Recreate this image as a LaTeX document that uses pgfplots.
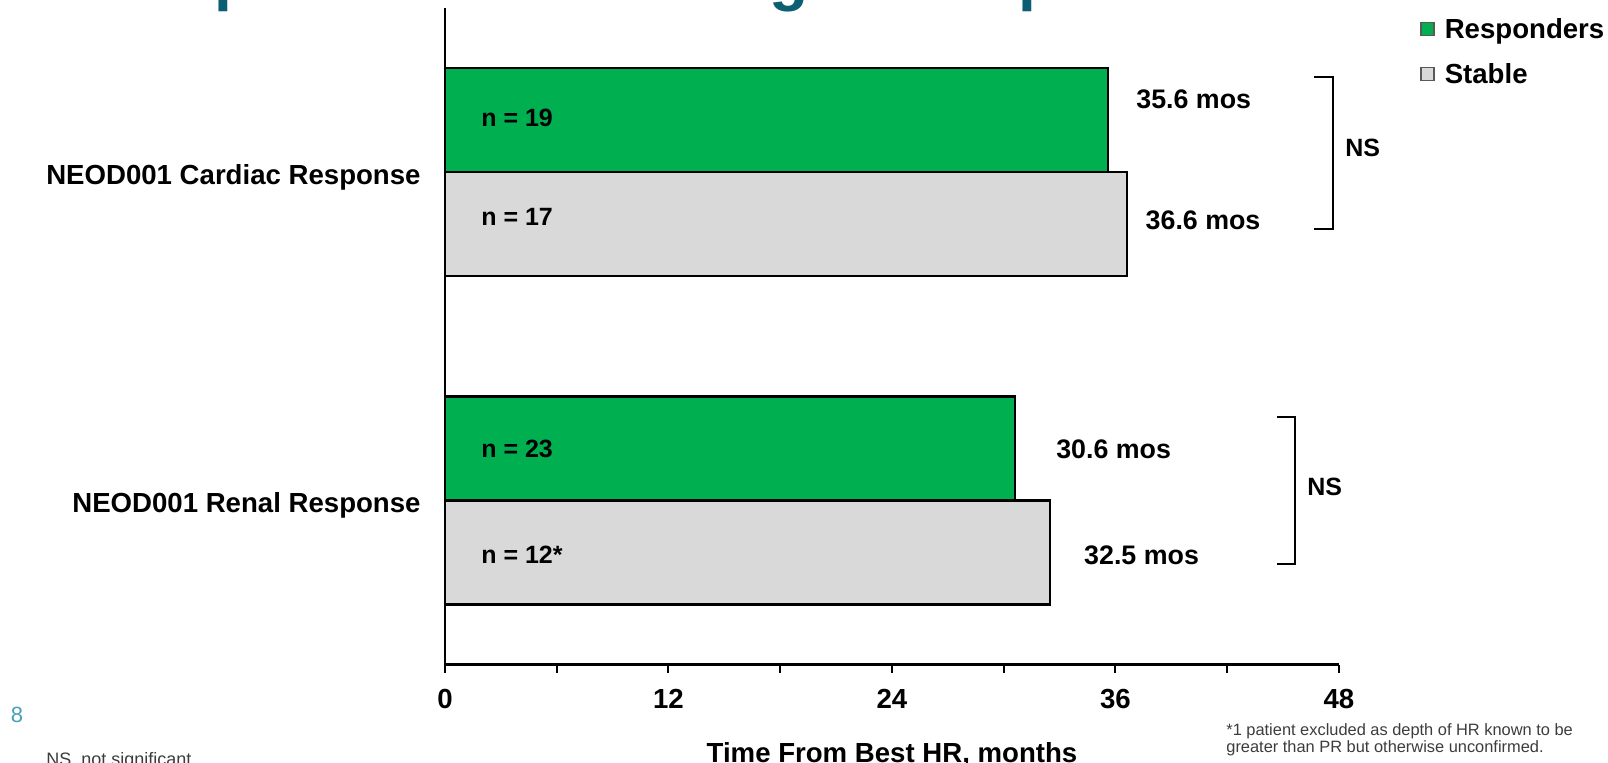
\documentclass[border=0pt]{standalone}
\usepackage{fontspec}
\setmainfont{Liberation Sans}
\usepackage{pgfplots}
\pgfplotsset{compat=1.18}

\definecolor{respgreen}{RGB}{0,176,80}
\definecolor{stablegray}{RGB}{217,217,217}
\definecolor{titleteal}{RGB}{12,95,115}
\definecolor{pageteal}{RGB}{70,160,185}
\definecolor{notegray}{RGB}{60,60,60}

\newcommand{\lblfont}{\fontsize{13.8}{16}\selectfont\bfseries}
\newcommand{\valfont}{\fontsize{13.4}{16}\selectfont\bfseries}
\newcommand{\nfont}{\fontsize{12.5}{15}\selectfont\bfseries}

\begin{document}
\begin{tikzpicture}[x=1pt,y=1pt]
\path[use as bounding box, clip] (0,0) rectangle (804,381);

% slide title, running off the top edge
\node[anchor=base west, inner sep=0pt, text=titleteal,
      font=\fontsize{32}{38}\selectfont\bfseries] at (36,381.75)
      {Comparable Across Organ Response};

\begin{axis}[
  at={(222.5pt,48.75pt)}, anchor=south west,
  scale only axis, width=447pt, height=328.1pt,
  xmin=0, xmax=48, ymin=-0.5, ymax=1.5,
  axis x line=bottom, axis y line=left,
  axis line style={-, line width=1.2pt, black},
  xtick={0,12,24,36,48},
  minor xtick={6,18,30,42},
  tick align=outside,
  major tick length=4pt, minor tick length=4pt,
  xtick style={line width=1pt, black},
  /pgf/number format/assume math mode=true,
  xticklabel style={font=\lblfont, yshift=-5pt},
  ytick={0,1},
  yticklabels={NEOD001 Renal Response, NEOD001 Cardiac Response},
  ytick style={draw=none},
  y tick label style={font=\lblfont, anchor=base east, inner sep=0pt,
                      xshift=-8pt, yshift=-5.9pt},
  xlabel={Time From Best HR, months},
  xlabel style={font=\lblfont, at={(axis description cs:0.5,0)},
                anchor=base, yshift=-49pt, inner sep=0pt},
  xbar, bar width=52pt, bar shift=0pt,
  clip=false,
  legend style={draw=none, fill=none, font=\lblfont,
                at={(axis description cs:1.0906,0.985)}, anchor=north west,
                inner sep=0pt, row sep=11pt, column sep=5pt,
                nodes={inner sep=0pt, anchor=base west}},
  legend cell align=left,
  legend image code/.code={
    \draw[#1, draw=black!65, line width=0.7pt] (0pt,1.6pt) rectangle (6.5pt,8.1pt);
  },
]
\addplot[fill=respgreen, draw=black, line width=1.1pt]
  coordinates {(35.6,1.1585) (30.6,0.1585)};
\addplot[fill=stablegray, draw=black, line width=1.1pt]
  coordinates {(36.6,0.8415) (32.5,-0.1585)};
\legend{Responders, Stable}

% median durations
\node[anchor=west, inner sep=0pt, font=\valfont] at (axis cs:37.1,1.2234) {35.6 mos};
\node[anchor=west, inner sep=0pt, font=\valfont] at (axis cs:37.6,0.8546) {36.6 mos};
\node[anchor=west, inner sep=0pt, font=\valfont] at (axis cs:32.8,0.1567) {30.6 mos};
\node[anchor=west, inner sep=0pt, font=\valfont] at (axis cs:34.3,-0.1664) {32.5 mos};

% group sizes
\node[anchor=west, inner sep=0pt, font=\nfont] at (axis cs:1.93,1.167) {n = 19};
\node[anchor=west, inner sep=0pt, font=\nfont] at (axis cs:1.93,0.8638) {n = 17};
\node[anchor=west, inner sep=0pt, font=\nfont] at (axis cs:1.93,0.1567) {n = 23};
\node[anchor=west, inner sep=0pt, font=\nfont] at (axis cs:1.93,-0.1664) {n = 12*};

% significance brackets
\draw[line width=1pt] (axis cs:46.66,1.2905) -- (axis cs:47.68,1.2905)
      -- (axis cs:47.68,0.8272) -- (axis cs:46.66,0.8272);
\node[anchor=west, inner sep=0pt, font=\nfont] at (axis cs:48.32,1.0738) {NS};
\draw[line width=1pt] (axis cs:44.67,0.2542) -- (axis cs:45.64,0.2542)
      -- (axis cs:45.64,-0.1938) -- (axis cs:44.67,-0.1938);
\node[anchor=west, inner sep=0pt, font=\nfont] at (axis cs:46.28,0.0408) {NS};
\end{axis}

% page number and footnotes
\node[anchor=center, inner sep=0pt, text=pageteal,
      font=\fontsize{11}{13}\selectfont] at (8.5,23.5) {8};
\node[anchor=base west, inner sep=0pt, text=notegray,
      font=\fontsize{9}{11}\selectfont] at (23,-1.5) {NS, not significant};
\node[anchor=base west, inner sep=0pt, text=notegray, align=left,
      font=\fontsize{8.2}{8.3}\selectfont] at (613,5)
      {*1 patient excluded as depth of HR known to be\\greater than PR but otherwise unconfirmed.};
\end{tikzpicture}
\end{document}
